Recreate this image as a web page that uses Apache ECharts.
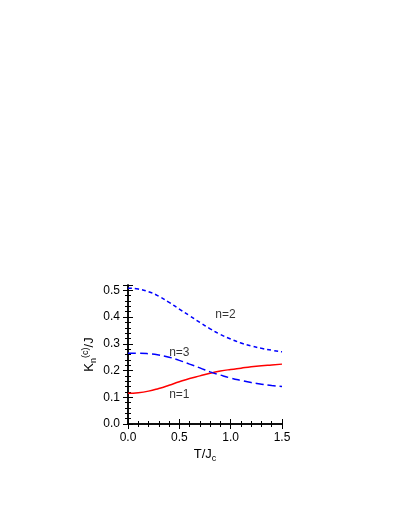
<!DOCTYPE html><html><head><meta charset="utf-8"><script src="https://cdn.jsdelivr.net/npm/echarts@6/dist/echarts.min.js"></script></head><body style="margin:0"><div id="c" style="width:409px;height:529px"></div><script>
const T=[0,0.1,0.2,0.3,0.4,0.5,0.6,0.7,0.8,0.9,1.0,1.1,1.2,1.3,1.4,1.5];
const n1=[0.115,0.117,0.123,0.133,0.145,0.158,0.170,0.180,0.190,0.198,0.204,0.209,0.214,0.218,0.221,0.224];
const n2=[0.508,0.505,0.495,0.478,0.455,0.430,0.405,0.380,0.356,0.335,0.318,0.303,0.292,0.283,0.276,0.270];
const n3=[0.265,0.265,0.263,0.258,0.250,0.238,0.224,0.210,0.195,0.183,0.172,0.163,0.155,0.149,0.144,0.140];
const labels=[{t:'n=2',x:0.95,y:0.41},{t:'n=3',x:0.5,y:0.265},{t:'n=1',x:0.5,y:0.11}];
const z=a=>T.map((t,i)=>[t,a[i]]);
const F='Liberation Sans, Arial, sans-serif';
const ax={axisLine:{show:true,lineStyle:{color:'#000',width:1.5}},splitLine:{show:false},
 axisTick:{show:true,inside:true,length:5,lineStyle:{color:'#000'}},minorTick:{show:true,splitNumber:5,length:3,lineStyle:{color:'#000'}}};
const ch=echarts.init(document.getElementById('c'));
ch.setOption({animation:false,
grid:{left:128,right:127,top:285,bottom:105},
xAxis:[Object.assign({type:'value',min:0,max:1.5,interval:0.5,name:'T/J{s|c}',nameLocation:'middle',nameGap:22,
 nameTextStyle:{fontFamily:F,fontSize:13,color:'#000',rich:{s:{fontSize:9,verticalAlign:'bottom',padding:[8,0,0,0]}}},
 axisLabel:{fontFamily:F,fontSize:12,color:'#000',formatter:v=>v.toFixed(1)}},ax),
 Object.assign({type:'value',position:'top',min:0,max:1.5,interval:0.5,axisLabel:{show:false}},ax)],
yAxis:[Object.assign({type:'value',min:0,max:0.52,interval:0.1,name:'K{s|n}{p|(c)}/J',nameLocation:'middle',nameGap:30,
 nameTextStyle:{fontFamily:F,fontSize:13,color:'#000',rich:{s:{fontSize:9,padding:[0,0,-8,0]},p:{fontSize:9,padding:[0,0,8,0]}}},
 axisLabel:{fontFamily:F,fontSize:12,color:'#000',formatter:v=>v.toFixed(1)}},ax),
 Object.assign({type:'value',position:'right',min:0,max:0.52,interval:0.1,axisLabel:{show:false}},ax)],
series:[
{type:'line',data:z(n1),smooth:true,symbol:'none',lineStyle:{color:'#ff0000',width:1.5}},
{type:'line',data:z(n2),smooth:true,symbol:'none',lineStyle:{color:'#0000ff',width:1.5,type:[4,3]}},
{type:'line',data:z(n3),smooth:true,symbol:'none',lineStyle:{color:'#0000ff',width:1.5,type:[8,4]}},
{type:'scatter',symbolSize:0,data:labels.map(l=>({value:[l.x,l.y],name:l.t})),
 label:{show:true,position:'inside',formatter:p=>p.name,fontFamily:F,fontSize:12,color:'#000'}}
]});
</script></body></html>
